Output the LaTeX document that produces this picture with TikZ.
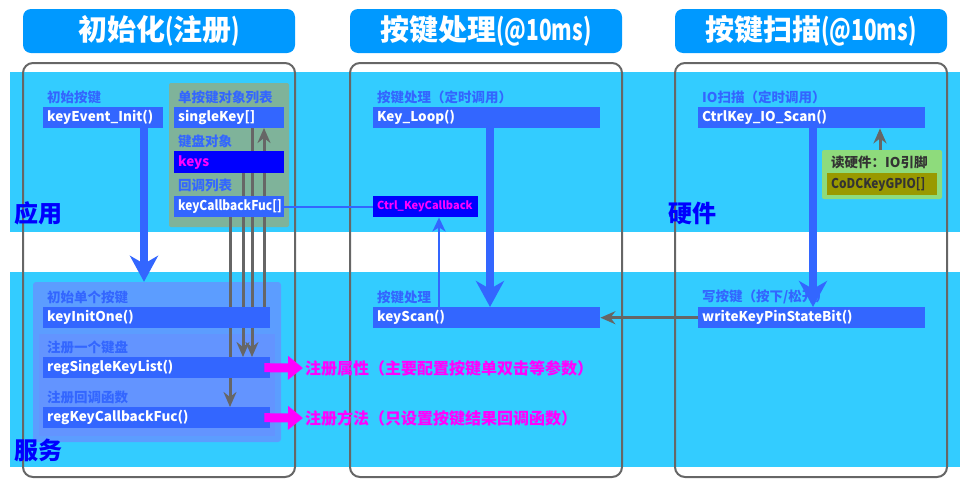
\documentclass[tikz,border=0pt]{standalone}
\usepackage{fontspec}
\setmainfont{Noto Sans CJK SC}
\newfontfamily\codefont{Noto Sans CJK SC}[FakeStretch=0.88]
\newfontfamily\narrowfont{Noto Sans CJK SC}[FakeStretch=0.72]
\usetikzlibrary{arrows.meta}

\definecolor{bandcyan}{HTML}{33CCFF}
\definecolor{headblue}{HTML}{0099FF}
\definecolor{fnblue}{HTML}{3366FF}
\definecolor{deepblue}{HTML}{0000FF}
\definecolor{sage}{HTML}{7FB39A}
\definecolor{svcouter}{HTML}{5C9DFF}
\definecolor{svcinner}{HTML}{6394FF}
\definecolor{hwgreen}{HTML}{8EDB7C}
\definecolor{olive}{HTML}{999900}
\definecolor{wire}{HTML}{666666}
\definecolor{darktext}{HTML}{333333}
\definecolor{mag}{HTML}{FF00FF}

\newcommand{\fsz}[1]{\fontsize{#1}{#1}\selectfont}

\tikzset{
  tierband/.style={fill=bandcyan, draw=none},
  title/.style={fill=headblue, rounded corners=8pt, minimum width=272pt,
    minimum height=44pt, text=white, font=\fsz{29}\bfseries, inner sep=0pt},
  colframe/.style={draw=wire, line width=2pt, rounded corners=10pt,
    inner sep=0pt, minimum width=272pt, minimum height=414pt},
  panel/.style={inner sep=0pt, draw=none, rounded corners=2pt},
  fn/.style={fill=fnblue, text=white, font=\fsz{13.5}\bfseries,
    anchor=north west, minimum height=21pt, inner xsep=4pt, inner ysep=0pt,
    align=left},
  narrowfn/.style={font=\codefont\fsz{13.5}\bfseries},
  lbl/.style={anchor=west, text=fnblue, font=\fsz{13.5}\bfseries, inner sep=0pt},
  tier/.style={text=deepblue, font=\fsz{24}\bfseries, inner sep=0pt},
  note/.style={anchor=west, text=mag, font=\fsz{16}\bfseries, inner sep=0pt},
  gline/.style={draw=wire, line width=3pt},
  garrow/.style={gline, -{Stealth[length=15pt,width=13pt,inset=5pt]}},
  flow/.style={draw=fnblue, line width=8pt,
    -{Stealth[length=26pt,width=28pt,inset=8pt]}},
  thinflow/.style={draw=fnblue, line width=2.5pt,
    -{Stealth[length=14pt,width=13pt,inset=4pt]}},
  pointer/.style={draw=mag, line width=9pt, -{Triangle[length=15pt,width=23pt]}},
}

\begin{document}
\begin{tikzpicture}[x=1pt, y=-1pt]
\useasboundingbox (0,0) rectangle (970,485);

% layer bands
\fill[tierband] (10,72) rectangle (960,232);
\fill[tierband] (10,272) rectangle (960,467);

% column titles
\node[title] (hA) at (159,31) {初始化{\narrowfont(}注册{\narrowfont)}};
\node[title] (hB) at (486,31) {按键处理{\narrowfont(@10ms)}};
\node[title] (hC) at (811,31) {按键扫描{\narrowfont(@10ms)}};

% column frames
\node[colframe] (colA) at (159,270) {};
\node[colframe] (colB) at (486,270) {};
\node[colframe] (colC) at (811,270) {};

% background panels
\node[panel, fill=sage, minimum width=120pt, minimum height=144pt] (objs) at (229,155) {};
\node[panel, fill=svcouter, minimum width=248pt, minimum height=160pt, rounded corners=3pt] (svcOut) at (157,362) {};
\node[panel, fill=svcinner, minimum width=236pt, minimum height=102pt, rounded corners=0pt] (svcIn) at (157,385) {};
\node[panel, fill=hwgreen, minimum width=120pt, minimum height=49pt] (hw) at (882,174.5) {};

% helper columns for connectors
\coordinate (xa) at (230,0);
\coordinate (xb) at (243,0);
\coordinate (xc) at (252,0);
\coordinate (xd) at (264,0);
\coordinate (fa) at (144,0);
\coordinate (fb) at (490,0);
\coordinate (fc) at (813,0);
\coordinate (fd) at (439,0);
\coordinate (fe) at (880,0);

% edges of the object list and service boxes, so the wires can run beneath them
\path (174,173) coordinate (keysS)
      (174,128) coordinate (singleS) (174,217) coordinate (cbListS)
      (43,307) coordinate (initOneN) (43,357) coordinate (regListN)
      (43,407) coordinate (regCbN);

% registration wires
\draw[garrow] (cbListS -| xa) -- (regCbN -| xa);
\draw[garrow] (keysS -| xb) -- (regListN -| xb);
\draw[garrow] (singleS -| xc) -- (regListN -| xc);
\draw[garrow] (initOneN -| xd) -- (singleS -| xd);

% function boxes
\node[fn, text width=112pt] (initEv) at (43,107) {keyEvent\_Init()};
\node[fn, text width=102pt] (single) at (174,107) {singleKey[]};
\node[fn, text width=102pt, fill=deepblue, text=mag, minimum height=22pt] (keys) at (174,151) {keys};
\node[fn, narrowfn, text width=102pt] (cbList) at (174,196) {keyCallbackFuc[]};
\node[fn, text width=219pt] (initOne) at (43,307) {keyInitOne()};
\node[fn, text width=219pt] (regList) at (43,357) {regSingleKeyList()};
\node[fn, text width=219pt] (regCb) at (43,407) {regKeyCallbackFuc()};
\node[fn, text width=219pt] (loop) at (373,107) {Key\_Loop()};
\node[fn, text width=97pt, fill=deepblue, text=mag, font=\fsz{11}\bfseries] (cbCtrl) at (373,196) {Ctrl\_KeyCallback};
\node[fn, text width=219pt] (scan) at (373,307) {keyScan()};
\node[fn, text width=219pt] (ioScan) at (698,107) {CtrlKey\_IO\_Scan()};
\node[fn, text width=219pt] (writeBit) at (698,307) {writeKeyPinStateBit()};
\node[fn, narrowfn, text width=102pt, fill=olive, text=darktext, minimum height=22pt] (gpio) at (827,173) {CoDCKeyGPIO[]};

% captions
\node[lbl] (cInit) at (47,97) {初始按键};
\node[lbl] (cSingle) at (178,97) {单按键对象列表};
\node[lbl] (cKeys) at (178,141) {键盘对象};
\node[lbl] (cCb) at (178,185) {回调列表};
\node[lbl] (cOne) at (47,297) {初始单个按键};
\node[lbl] (cReg) at (47,347) {注册一个键盘};
\node[lbl] (cRegCb) at (47,397) {注册回调函数};
\node[lbl] (cLoop) at (377,97) {按键处理（定时调用）};
\node[lbl] (cScan) at (377,297) {按键处理};
\node[lbl] (cIo) at (702,97) {IO扫描（定时调用）};
\node[lbl] (cWrite) at (702,297) {写按键（按下/松开）};
\node[lbl, text=darktext] (cHw) at (831,162) {读硬件：IO引脚};

% layer names
\node[tier] (tApp) at (38,213) {应用};
\node[tier] (tSvc) at (38,450) {服务};
\node[tier] (tHw) at (692,213) {硬件};

% notes
\node[note] (noteA) at (305,368) {注册属性（主要配置按键单双击等参数）};
\node[note] (noteB) at (305,418) {注册方法（只设置按键结果回调函数）};

% connectors
\draw[fnblue, line width=2pt] (cbList.east) -- (cbCtrl.west);
\draw[flow] (initEv.south -| fa) -- (svcOut.north -| fa);
\draw[flow] (loop.south -| fb) -- (scan.north -| fb);
\draw[flow] (ioScan.south -| fc) -- (writeBit.north -| fc);
\draw[thinflow] (scan.north -| fd) -- (cbCtrl.south -| fd);
\draw[garrow] (writeBit.west) -- (scan.east);
\draw[garrow] (hw.north -| fe) -- (ioScan.south -| fe);
\draw[pointer] ([xshift=-6pt]regList.east) -- ([xshift=-2pt]noteA.west);
\draw[pointer] ([xshift=-6pt]regCb.east) -- ([xshift=-2pt]noteB.west);
\end{tikzpicture}
\end{document}
